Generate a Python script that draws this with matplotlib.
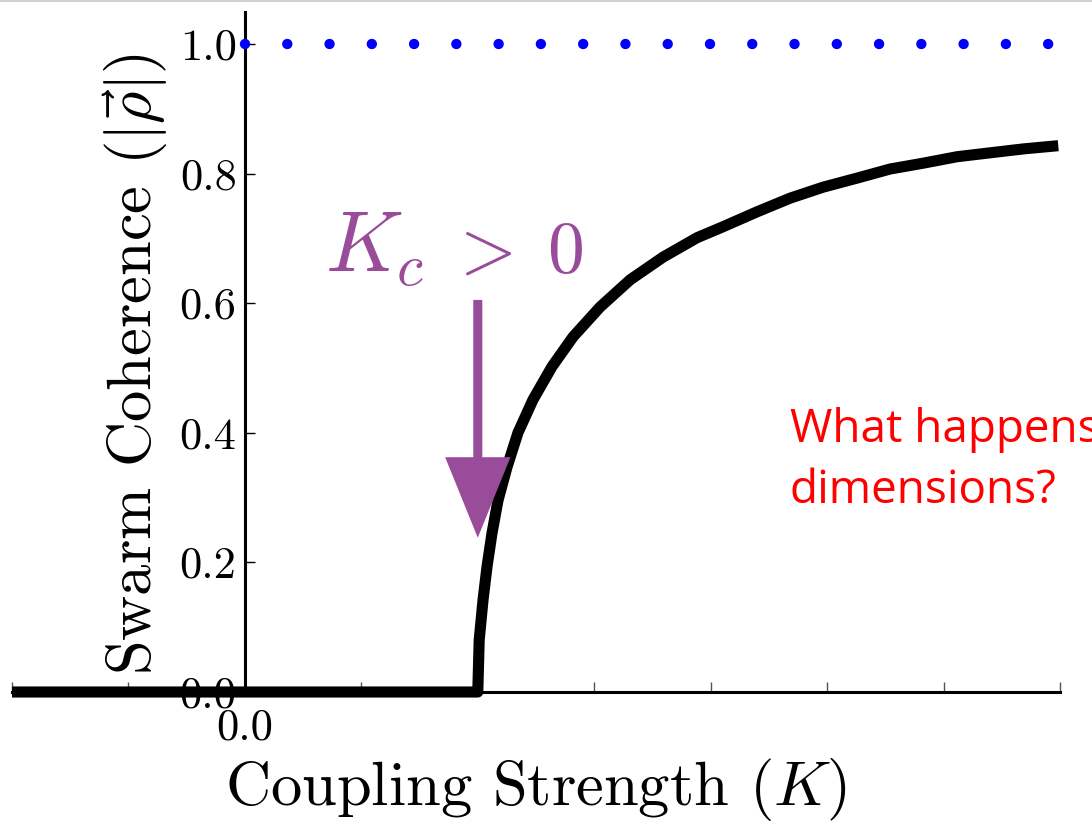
import matplotlib
matplotlib.use("Agg")
import matplotlib.pyplot as plt
from matplotlib.lines import Line2D

plt.rcParams["font.family"] = "serif"
plt.rcParams["font.serif"] = ["cmr10"]
plt.rcParams["mathtext.fontset"] = "cm"
plt.rcParams["axes.unicode_minus"] = False

# coupling strength K and swarm coherence |rho| (order parameter)
K = [-2.0, 2.000, 2.012, 2.045, 2.079, 2.122, 2.174, 2.251, 2.345, 2.474,
     2.637, 2.818, 3.050, 3.308, 3.591, 3.883, 4.107, 4.399, 4.682, 4.966,
     5.258, 5.541, 5.825, 6.117, 6.400, 6.684, 6.985]
RHO = [0.0, 0.0, 0.080, 0.142, 0.193, 0.245, 0.296, 0.347, 0.400, 0.451,
       0.502, 0.548, 0.594, 0.636, 0.671, 0.701, 0.718, 0.741, 0.762, 0.779,
       0.793, 0.807, 0.816, 0.826, 0.832, 0.838, 0.843]

# full coherence reference
K_REF = [0.0, 7.0]
RHO_REF = [1.0, 1.0]

K_C = 2.0
X_TICKS = [-2, -1, 0, 1, 2, 3, 4, 5, 6, 7]
X_TICK_LABELS = ["", "", "0.0", "", "", "", "", "", "", ""]
Y_TICKS = [0.0, 0.2, 0.4, 0.6, 0.8, 1.0]

PURPLE = "#994c99"

fig = plt.figure(figsize=(10.92, 8.24), dpi=100, facecolor="white")
ax = fig.add_axes([0.011, 0.1602, 0.9597, 0.8258])

ax.plot(K, RHO, color="black", lw=8, solid_capstyle="butt",
        solid_joinstyle="round", clip_on=False, zorder=3)
ax.plot(K_REF, RHO_REF, color="#0000ff", lw=7.5,
        linestyle=(0, (0.001, 4.057)), dash_capstyle="round",
        clip_on=False, zorder=3)

ax.set_xlim(-2, 7)
ax.set_ylim(0, 1.05)

for side in ("top", "right"):
    ax.spines[side].set_visible(False)
ax.spines["left"].set_position(("data", 0))
ax.spines["left"].set_linewidth(2.2)
ax.spines["bottom"].set_linewidth(2.2)

ax.set_xticks(X_TICKS)
ax.set_xticklabels(X_TICK_LABELS)
ax.set_yticks(Y_TICKS)
ax.set_yticklabels([f"{v:.1f}" for v in Y_TICKS])
ax.tick_params(axis="x", direction="in", length=7, width=1, pad=12,
               labelsize=32, color="#555555")
ax.tick_params(axis="y", direction="in", length=7, width=1, pad=6,
               labelsize=32)

ax.set_xlabel(r"Coupling Strength $(K)$", fontsize=45)
ax.set_ylabel(r"Swarm Coherence $(|\vec{\rho}|)$", fontsize=45)
ax.xaxis.set_label_coords(0.5, -0.094)
ax.yaxis.set_label_coords(0.151, 0.482)

# critical coupling marker
ax.annotate("", xy=(K_C, 0.238), xytext=(K_C, 0.605),
            arrowprops=dict(facecolor=PURPLE, edgecolor="none", width=6.5,
                            headwidth=47, headlength=58, shrink=0),
            zorder=4)
ax.text(0.687, 0.648, r"$K_c$", color=PURPLE, fontsize=61,
        ha="left", va="baseline")
ax.text(1.735, 0.648, r"$>\;0$", color=PURPLE, fontsize=53,
        ha="left", va="baseline")

fig.text(790 / 1092, 1 - 442 / 824, "What happens in higher", color="red",
         fontsize=33, family="Open Sans", ha="left", va="baseline")
fig.text(790 / 1092, 1 - 503 / 824, "dimensions?", color="red",
         fontsize=33, family="Open Sans", ha="left", va="baseline")

fig.add_artist(Line2D([0, 1], [0.999, 0.999], color="#c8c8c8", lw=1.2))

fig.savefig("out.png", dpi=100, facecolor="white")
